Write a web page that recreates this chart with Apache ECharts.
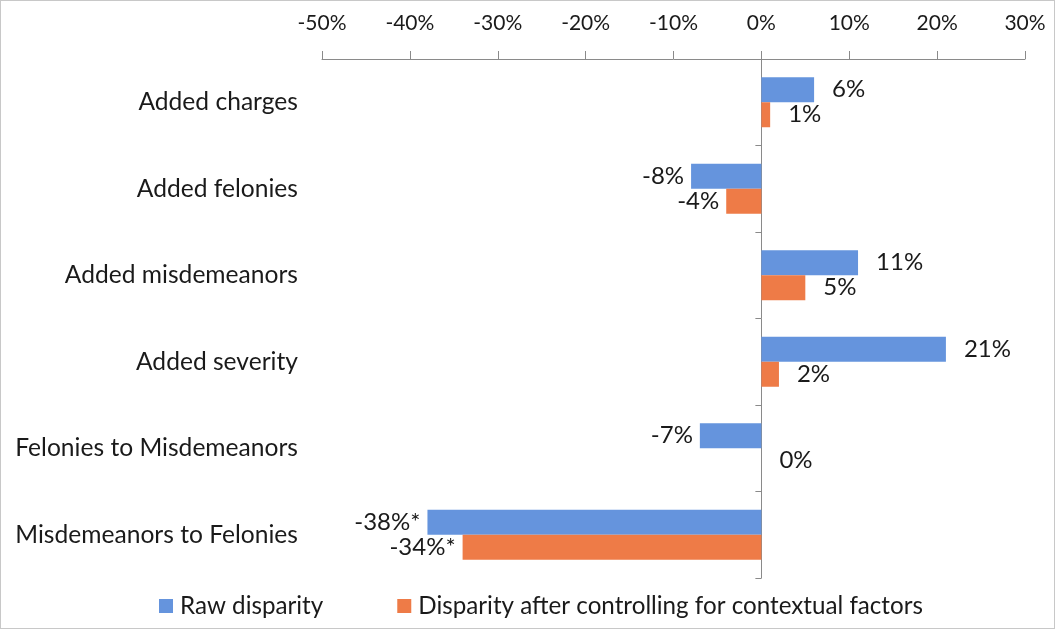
<!DOCTYPE html>
<html><head><meta charset="utf-8">
<script src="https://cdn.jsdelivr.net/npm/echarts@6/dist/echarts.min.js"></script>
<style>html,body{margin:0;padding:0;background:#fff}#c{position:absolute;left:0;top:0;width:1053px;height:627px;border:1px solid #c8c8c8}</style>
</head><body><div id="c"></div>
<script>
const categories = ['Added charges','Added felonies','Added misdemeanors','Added severity','Felonies to Misdemeanors','Misdemeanors to Felonies'];
const rawDisparity = [6, -8, 11, 21, -7, -38];
const adjustedDisparity = [1, -4, 5, 2, 0, -34];
const significant = [false, false, false, false, false, true];
const tickLabels = ['-50%','-40%','-30%','-20%','-10%','0%','10%','20%','30%'];
const seriesNames = ['Raw disparity','Disparity after controlling for contextual factors'];
const FONT = 'Lato';
const GRID_LEFT = 321;

function mkData(vals){
  return vals.map((v,i)=>({
    value: v,
    label: {
      position: v < 0 ? 'left' : 'right',
      distance: v < 0 ? 7 : 18,
      formatter: v + '%' + (significant[i] ? '*' : '')
    }
  }));
}

const chart = echarts.init(document.getElementById('c'));
const option = {
  animation:false,
  textStyle:{fontFamily:FONT},
  grid:{left:GRID_LEFT, right:29, top:58, bottom:50, containLabel:false},
  legend:{
    bottom:5, left:153, itemGap:74, itemWidth:14, itemHeight:14, icon:'rect',
    textStyle:{fontFamily:FONT, fontSize:24.2, color:'#1a1a1a', padding:[0,0,0,2]},
    data:seriesNames
  },
  xAxis:{
    type:'value', position:'top', min:-50, max:30, interval:10,
    axisLine:{show:true, lineStyle:{color:'#8a8a8a', width:1}},
    axisTick:{show:true, length:8, lineStyle:{color:'#8a8a8a'}},
    axisLabel:{fontFamily:FONT, fontSize:21, color:'#1a1a1a', margin:25,
      formatter:(v)=>tickLabels[Math.round((v+50)/10)]},
    splitLine:{show:false}
  },
  yAxis:[{
    type:'category', inverse:true, data:categories, position:'left',
    axisLine:{show:false, onZero:false}, axisTick:{show:false},
    axisLabel:{fontFamily:FONT, fontSize:24.6, color:'#1a1a1a', margin:24}
  },{
    type:'category', inverse:true, data:categories, position:'left', offset:0,
    axisLine:{show:true, onZero:false, lineStyle:{color:'#8a8a8a'}},
    axisTick:{show:true, length:6, lineStyle:{color:'#8a8a8a'}},
    axisLabel:{show:false}
  }],
  series:[{
    name:seriesNames[0], type:'bar', yAxisIndex:0, data:mkData(rawDisparity),
    barWidth:25, barGap:'0%', itemStyle:{color:'#6594DD'},
    label:{show:true, fontFamily:FONT, fontSize:24, color:'#1a1a1a'}
  },{
    name:seriesNames[1], type:'bar', yAxisIndex:0, data:mkData(adjustedDisparity),
    barWidth:25, barGap:'0%', itemStyle:{color:'#EE7B47'},
    label:{show:true, fontFamily:FONT, fontSize:24, color:'#1a1a1a'}
  }]
};
chart.setOption(option);
const zeroPx = chart.convertToPixel({xAxisIndex:0}, 0);
chart.setOption({yAxis:[{}, {offset: -(zeroPx - GRID_LEFT)}]});
</script></body></html>
